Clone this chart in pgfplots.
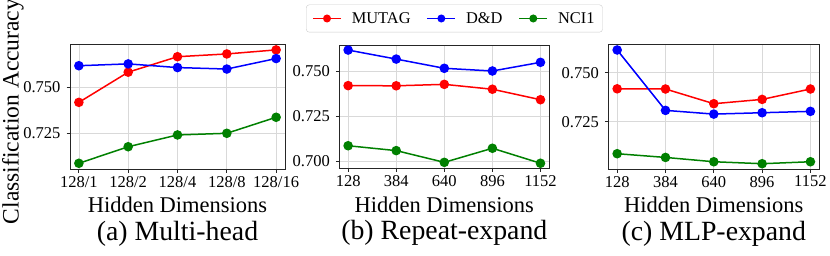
\documentclass[border=0pt]{standalone}
\usepackage{fontspec}
\setmainfont{Liberation Serif}
\usepackage{pgfplots}
\pgfplotsset{compat=1.18}
\definecolor{mred}{RGB}{255,0,0}
\definecolor{mblue}{RGB}{0,0,255}
\definecolor{mgreen}{RGB}{0,128,0}
\pgfplotsset{
  base/.style={
    scale only axis,
    axis line style={black!85, line width=0.9pt},
    grid=major, grid style={black!15, line width=0.7pt},
    tick align=outside, tick pos=left, major tick length=3.5pt,
    tick style={black!85, line width=0.8pt},
    /pgf/number format/assume math mode=true,
    ticklabel style={font=\fontsize{16.5}{18}\selectfont},
    yticklabel={\pgfmathprintnumber[fixed,fixed zerofill,precision=3]{\tick}},
    yticklabel style={xshift=-2.5pt},
    xticklabel style={/pgf/number format/set thousands separator={}},
    xtick=data,
    xlabel={Hidden Dimensions},
    xlabel style={font=\fontsize{22.5}{24}\selectfont, at={(axis description cs:0.5,0)}, anchor=base, yshift=-43.7pt},
    title style={font=\fontsize{27.8}{30}\selectfont, at={(axis description cs:0.5,0)}, anchor=base, yshift=-77pt},
    every axis plot/.append style={line width=1.5pt, mark=*, mark size=4pt},
    legend image code/.code={\draw[mark repeat=2,mark phase=2,mark size=3.2pt] plot coordinates {(0pt,0pt) (14pt,0pt) (28pt,0pt)};},
  }
}
\begin{document}
\begin{tikzpicture}
\useasboundingbox (0pt,0pt) rectangle (830pt,255pt);
% (a) Multi-head
\begin{axis}[base, at={(70pt,86pt)}, anchor=south west, width=215pt, height=125pt,
  xmin=-0.18, xmax=4.18, ymin=0.7056, ymax=0.7735,
  ytick={0.700,0.725,0.750},
  xticklabels={128/1,128/2,128/4,128/8,128/16},
  ylabel={Classification Accuracy},
  ylabel style={font=\fontsize{23.5}{25}\selectfont, at={(axis description cs:-0.2395,0.46)}, anchor=base, rotate=0},
  title={(a) Multi-head}]
\addplot[color=mred] coordinates {(0,0.7418) (1,0.7582) (2,0.7666) (3,0.7681) (4,0.7703)};
\addplot[color=mblue] coordinates {(0,0.7617) (1,0.7627) (2,0.7607) (3,0.7599) (4,0.7656)};
\addplot[color=mgreen] coordinates {(0,0.7087) (1,0.7177) (2,0.7241) (3,0.7250) (4,0.7337)};
\end{axis}
% (b) Repeat-expand
\begin{axis}[base, at={(339.3pt,86.7pt)}, anchor=south west, width=210pt, height=123.3pt,
  xmin=81, xmax=1199, ymin=0.6961, ymax=0.7644,
  ytick={0.700,0.725,0.750},
  title={(b) Repeat-expand},
  legend columns=3,
  legend style={at={(axis description cs:0.548,1.215)}, anchor=center, draw=black!20, rounded corners=3pt,
    font=\fontsize{16.4}{18}\selectfont, inner xsep=6pt, inner ysep=5.5pt,
    /tikz/every odd column/.append style={column sep=8pt},
    /tikz/every even column/.append style={column sep=14pt}},
  ]
\addplot[color=mred] coordinates {(128,0.7419) (384,0.7418) (640,0.7426) (896,0.7399) (1152,0.7341)};
\addlegendentry{MUTAG}
\addplot[color=mblue] coordinates {(128,0.7616) (384,0.7566) (640,0.7515) (896,0.7500) (1152,0.7548)};
\addlegendentry{D\&D}
\addplot[color=mgreen] coordinates {(128,0.7086) (384,0.7059) (640,0.6994) (896,0.7072) (1152,0.6989)};
\addlegendentry{NCI1}
\end{axis}
% (c) MLP-expand
\begin{axis}[base, at={(608.3pt,86pt)}, anchor=south west, width=211pt, height=124.7pt,
  xmin=81, xmax=1199, ymin=0.7009, ymax=0.7645,
  ytick={0.700,0.725,0.750},
  title={(c) MLP-expand}]
\addplot[color=mred] coordinates {(128,0.7418) (384,0.7417) (640,0.7342) (896,0.7364) (1152,0.7417)};
\addplot[color=mblue] coordinates {(128,0.7616) (384,0.7308) (640,0.7289) (896,0.7296) (1152,0.7303)};
\addplot[color=mgreen] coordinates {(128,0.7087) (384,0.7068) (640,0.7046) (896,0.7036) (1152,0.7046)};
\end{axis}
\end{tikzpicture}
\end{document}
